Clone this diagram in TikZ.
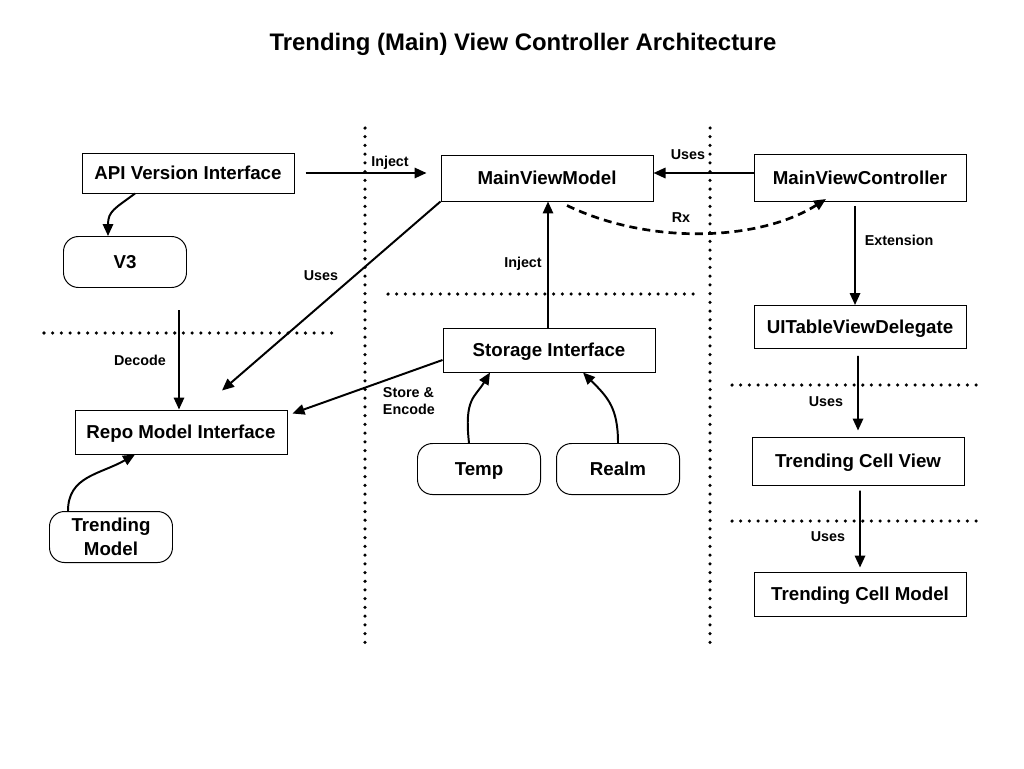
\documentclass[tikz,border=0pt]{standalone}
\usepackage{fontspec}
\setmainfont{Liberation Sans}
\usetikzlibrary{arrows.meta}

\tikzset{
	box/.style={draw, line width=0.7pt, minimum width=53mm, minimum height=11mm, text height=9.6pt, text depth=0pt, font=\fontsize{13.3}{16}\selectfont\bfseries},
	rbox/.style={draw, line width=0.7pt, rounded corners=3.75mm, minimum width=30.75mm, minimum height=12.75mm, text height=9.6pt, text depth=0pt, align=center, font=\fontsize{13.3}{17}\selectfont\bfseries},
	arr/.style={-{Triangle[length=3mm,width=2.6mm]}, line width=1.4pt},
	lbl/.style={font=\fontsize{10.2}{12.5}\selectfont\bfseries, align=left},
	sep/.style={line width=2.5pt, dash pattern=on 0pt off 6.2pt, line cap=round},
}

\begin{document}
\begin{tikzpicture}[x=0.25mm, y=-0.25mm]
	\useasboundingbox (0,0) rectangle (1024,768);
	\node[font=\fontsize{17}{20}\selectfont\bfseries] (title) at (523,44) {Trending (Main) View Controller Architecture};
	
	% separators
	\draw[sep] (365,128) -- (365,645);
	\draw[sep] (710,128) -- (710,645);
	\draw[sep] (44,333) -- (335,333);
	\draw[sep] (388,294) -- (698,294);
	\draw[sep] (732,385) -- (980,385);
	\draw[sep] (732,521) -- (980,521);
	
	% left column
	\node[box, minimum height=10mm] (api) at (188,173) {API Version Interface};
	\node[rbox] (v3) at (125,262) {V3};
	\node[box] (repo) at (181,432) {Repo Model Interface};
	\node[rbox, text height={}, text depth={}] (tm) at (111,537) {Trending\\Model};
	\coordinate (dec) at (179,310);
	
	% middle column
	\node[box, minimum height=11.5mm] (mvm) at (547,178) {MainViewModel};
	\node[box] (store) at (549,350) {Storage Interface};
	\node[rbox] (temp) at (479,469) {Temp};
	\node[rbox] (realm) at (618,469) {Realm};
	
	% right column
	\node[box, minimum height=11.75mm] (mvc) at (860,178) {MainViewController};
	\node[box, minimum height=10.75mm] (uitd) at (860,327) {UITableViewDelegate};
	\node[box, minimum height=12mm] (tcv) at (858,461) {Trending Cell View};
	\node[box] (tcm) at (860,594) {Trending Cell Model};
	
	\draw[arr] (api.east) ++(2.75mm,0) -- ([xshift=-3.5mm]mvm.west |- api.east);
	\node[lbl] (lInject) at (390,163) {Inject};
	\draw[arr] (mvc.west |- 0,173) -- (mvm.east |- 0,173);
	\node[lbl] (lUses) at (688,155) {Uses};
	\draw[arr] (mvm.south west) -- ([shift={(10.25mm,4.75mm)}]repo.north);
	\node[lbl] (lUses2) at (321,276) {Uses};
	\draw[arr] ([xshift=-13.25mm]api.south) .. controls +(-20,15) and +(0,-25) .. ([xshift=-4.25mm]v3.north);
	\draw[arr] (dec) -- (dec |- repo.north);
	\node[lbl] (lDecode) at (140,360) {Decode};
	\draw[arr] ([xshift=-10.75mm]tm.north) .. controls +(0,-35) and +(-35,20) .. ([xshift=-11.5mm]repo.south);
	
	\draw[arr] ([yshift=-2.5mm]store.west) -- ([shift={(1.25mm,-1mm)}]repo.north east);
	\node[lbl, anchor=west] (lStore) at (378,401) {Store \&\\Encode};
	\draw[arr] (store.north -| 548,0) -- (mvm.south -| 548,0);
	\node[lbl] (lInject2) at (523,264) {Inject};
	\draw[arr] ([xshift=-2.5mm]temp.north) .. controls +(-5,-45) and +(-15,25) .. ([xshift=-14.75mm]store.south);
	\draw[arr] (realm.north) .. controls +(0,-35) and +(25,25) .. ([xshift=8.5mm]store.south);
	
	\draw[arr, line width=1.9pt, dash pattern=on 2mm off 1.3mm] ([shift={(5mm,-1mm)}]mvm.south) .. controls +(83,40) and +(-66,42) .. ([shift={(-8.5mm,0.75mm)}]mvc.south);
	\node[lbl] (lRx) at (681,218) {Rx};
	\draw[arr] ([shift={(-1.25mm,-1mm)}]mvc.south) -- ([xshift=-1.25mm]uitd.north);
	\node[lbl] (lExt) at (899,240) {Extension};
	\draw[arr] ([shift={(-0.5mm,-1.75mm)}]uitd.south) -- ([yshift=1.5mm]tcv.north);
	\node[lbl] (lUses3) at (826,402) {Uses};
	\draw[arr] ([shift={(0.5mm,-1.25mm)}]tcv.south) -- ([yshift=1mm]tcm.north);
	\node[lbl] (lUses4) at (828,537) {Uses};
\end{tikzpicture}
\end{document}
